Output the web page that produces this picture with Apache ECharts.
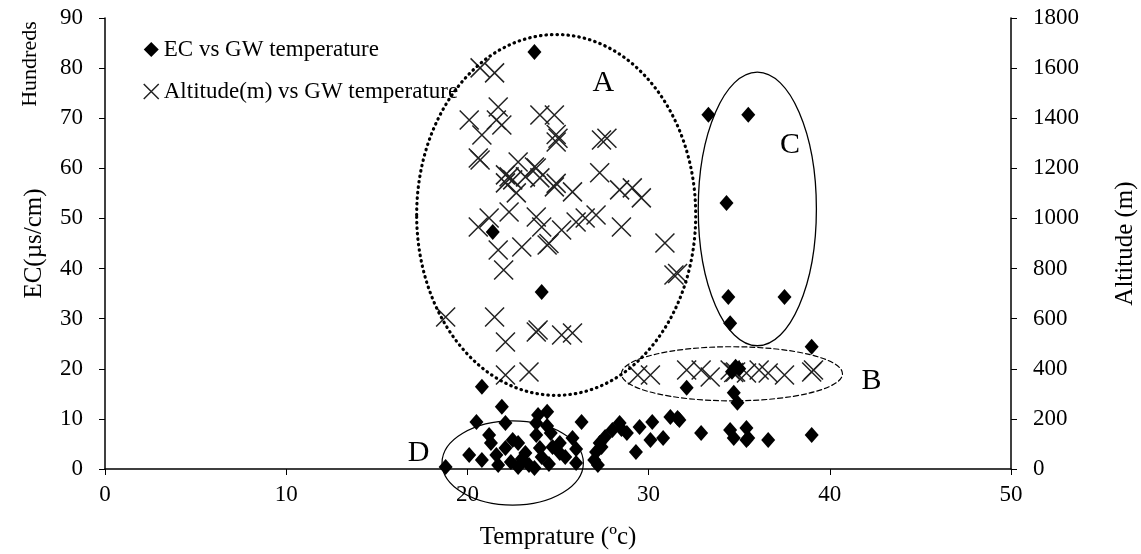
<!DOCTYPE html>
<html>
<head>
<meta charset="utf-8">
<script src="https://cdn.jsdelivr.net/npm/echarts@6/dist/echarts.min.js"></script>
<style>
  html, body { margin: 0; padding: 0; background: #fff; }
  #container { width: 1141px; height: 554px; }
</style>
</head>
<body>
<div id="container"></div>
<script>
var dom = document.getElementById("container");
var myChart = echarts.init(dom);

// EC (hundreds of µs/cm) vs GW temperature
var ecData = [
    [23.7, 83.2], [33.3, 70.7], [35.5, 70.7], [34.3, 53.1], [21.4, 47.3], [24.1, 35.3],
    [34.4, 34.3], [37.5, 34.3], [34.5, 29.1], [39.0, 24.4], [34.8, 20.4], [34.6, 19.4],
    [35.0, 20.0], [20.8, 16.4], [32.1, 16.2], [34.7, 15.2], [34.9, 13.2],
    [32.9, 7.2], [34.5, 7.8], [34.7, 6.2], [35.4, 8.2], [35.5, 6.2], [36.6, 5.8],
    [39.0, 6.8], [31.7, 9.8], [35.4, 5.8],
    [28.4, 9.2], [29.5, 8.4], [30.2, 9.4], [31.2, 10.4], [31.6, 10.2], [30.1, 5.8],
    [30.8, 6.2], [29.3, 3.4], [28.8, 7.2], [28.0, 7.8], [27.6, 6.4], [27.3, 5.2],
    [27.1, 3.4], [27.0, 1.8], [27.2, 0.8], [27.4, 4.4], [28.5, 8.0],
    [21.9, 12.4], [24.4, 11.4], [26.3, 9.4], [20.5, 9.4], [22.1, 9.2], [23.8, 9.2],
    [21.2, 6.8], [25.8, 6.2], [24.6, 7.2], [23.8, 6.8], [22.8, 5.2], [20.1, 2.8],
    [20.8, 1.8], [21.6, 2.8], [22.1, 4.2], [22.4, 1.4], [23.2, 3.2], [23.4, 0.8],
    [24.1, 2.4], [24.7, 4.4], [25.1, 3.2], [25.4, 2.4], [26.0, 1.2], [18.8, 0.4],
    [21.7, 0.8], [22.8, 0.4], [23.7, 0.2], [21.3, 5.2], [22.5, 5.8], [24.0, 4.2],
    [25.1, 5.2], [24.4, 8.6], [26.0, 4.0], [23.0, 2.0], [24.5, 1.0], [23.9, 10.8]
];

// Altitude (m) vs GW temperature
var altData = [
    [20.7, 1601], [21.5, 1581], [21.7, 1445], [20.1, 1393], [21.6, 1393], [21.9, 1373],
    [24.0, 1413], [24.8, 1413], [20.8, 1333], [24.9, 1335], [25.0, 1320], [24.9, 1305],
    [27.4, 1313], [27.7, 1320], [20.6, 1241], [20.7, 1233], [22.8, 1225], [23.7, 1205],
    [27.3, 1182], [22.1, 1174], [22.5, 1154], [23.8, 1201], [22.3, 1166], [22.1, 1142],
    [23.2, 1166], [24.0, 1162], [24.8, 1126], [24.9, 1140], [25.8, 1106], [28.4, 1114],
    [29.1, 1122], [29.6, 1082], [22.7, 1102], [22.3, 1026], [21.2, 1002], [20.6, 966],
    [23.8, 1006], [24.1, 966], [25.2, 954], [26.0, 986], [26.5, 1002], [27.1, 1014],
    [28.5, 966], [21.7, 874], [23.0, 886], [24.4, 894], [24.5, 900], [22.0, 794],
    [30.9, 902], [31.4, 774], [31.6, 780], [18.8, 607], [21.5, 607], [22.1, 507],
    [23.8, 547], [23.9, 555], [25.2, 535], [25.8, 543], [22.1, 375], [23.4, 387],
    [29.4, 375], [30.1, 375], [32.1, 395], [32.9, 395], [33.4, 367], [34.5, 395],
    [34.7, 385], [34.8, 387], [35.4, 383], [36.1, 395], [36.6, 383], [37.5, 375],
    [39.0, 387], [39.1, 395]
];

var xTicks = [0, 50, 10];       // min, max, interval
var ecTicks = [0, 90, 10];
var altTicks = [0, 1800, 200];

// group outlines in data units of x / EC axis: [cx, cy, rx, ry]
var groupA = [24.9, 50.7, 7.7, 36];
var groupB = [34.6, 19.0, 6.1, 5.4];
var groupC = [36.0, 51.9, 3.26, 27.3];
var groupD = [22.5, 1.2, 3.9, 8.4];
var groupLabels = [['A', 27.5, 77], ['C', 37.8, 64.7], ['B', 42.3, 17.6], ['D', 17.3, 3.2]];

var serif = 'Liberation Serif';
var xMark = 'path://M0,0L10,10M10,0L0,10';

option = {
    animation: false,
    textStyle: { fontFamily: serif, color: '#000' },
    grid: { left: 105, right: 130, top: 18, bottom: 85, outerBoundsMode: 'none' },
    legend: {
        orient: 'vertical',
        left: 138,
        top: 33,
        itemGap: 19,
        itemWidth: 15,
        itemHeight: 15,
        textStyle: { fontFamily: serif, fontSize: 23, color: '#000' },
        data: [
            { name: 'EC vs GW temperature', icon: 'diamond', itemStyle: { color: '#000' } },
            { name: 'Altitude(m) vs GW temperature', icon: xMark,
              itemStyle: { color: 'transparent', borderColor: '#222', borderWidth: 1.5 } }
        ]
    },
    xAxis: {
        type: 'value',
        min: xTicks[0],
        max: xTicks[1],
        interval: xTicks[2],
        name: 'Temprature (ºc)',
        nameLocation: 'middle',
        nameGap: 56,
        nameTextStyle: { fontFamily: serif, fontSize: 25, color: '#000' },
        axisLine: { lineStyle: { color: '#000', width: 1.5 } },
        axisTick: { length: 6, lineStyle: { color: '#000' } },
        axisLabel: { fontFamily: serif, fontSize: 23, color: '#000', margin: 14 },
        splitLine: { show: false }
    },
    yAxis: [{
        type: 'value',
        min: ecTicks[0],
        max: ecTicks[1],
        interval: ecTicks[2],
        name: 'EC(µs/cm)',
        nameLocation: 'middle',
        nameGap: 58,
        nameTextStyle: { fontFamily: serif, fontSize: 25, color: '#000' },
        axisLine: { show: true, lineStyle: { color: '#000', width: 1.5 } },
        axisTick: { show: true, length: 6, lineStyle: { color: '#000' } },
        axisLabel: { fontFamily: serif, fontSize: 23, color: '#000', margin: 22 },
        splitLine: { show: false }
    }, {
        type: 'value',
        min: altTicks[0],
        max: altTicks[1],
        interval: altTicks[2],
        position: 'right',
        name: 'Altitude (m)',
        nameLocation: 'middle',
        nameGap: 102,
        nameTextStyle: { fontFamily: serif, fontSize: 25, color: '#000' },
        axisLine: { show: true, lineStyle: { color: '#000', width: 1.5 } },
        axisTick: { show: true, length: 6, lineStyle: { color: '#000' } },
        axisLabel: {
            fontFamily: serif, fontSize: 23, color: '#000', margin: 22,
            formatter: function (v) { return String(v); }
        },
        splitLine: { show: false }
    }],
    series: [{
        name: 'EC vs GW temperature',
        type: 'scatter',
        yAxisIndex: 0,
        symbol: 'diamond',
        symbolSize: [14, 16],
        itemStyle: { color: '#000', opacity: 1 },
        data: ecData,
        z: 3
    }, {
        name: 'Altitude(m) vs GW temperature',
        type: 'scatter',
        yAxisIndex: 1,
        symbol: xMark,
        symbolSize: 19,
        itemStyle: { color: 'transparent', borderColor: '#222', borderWidth: 1.5, opacity: 1 },
        data: altData,
        z: 2
    }]
};

if (option && typeof option === "object") {
    myChart.setOption(option, true);
}

// outline ellipses and letters, placed in data units
function ellipseOf(g, dash, width) {
    var c = myChart.convertToPixel({ xAxisIndex: 0, yAxisIndex: 0 }, [g[0], g[1]]);
    var e = myChart.convertToPixel({ xAxisIndex: 0, yAxisIndex: 0 }, [g[0] + g[2], g[1] + g[3]]);
    return {
        type: 'ellipse',
        shape: { cx: c[0], cy: c[1], rx: Math.abs(e[0] - c[0]), ry: Math.abs(c[1] - e[1]) },
        style: { fill: 'none', stroke: '#000', lineWidth: width, lineDash: dash, lineCap: 'round' },
        silent: true,
        z: 10
    };
}

var graphics = [
    ellipseOf(groupA, [0.5, 5], 3.2),
    ellipseOf(groupB, [5, 3], 1.2),
    ellipseOf(groupC, null, 1.3),
    ellipseOf(groupD, null, 1.2),
    {
        type: 'text', x: 30, y: 64, rotation: Math.PI / 2,
        style: { text: 'Hundreds', font: '22px "Liberation Serif"', fill: '#000',
                 align: 'center', verticalAlign: 'middle' }
    }
];
groupLabels.forEach(function (l) {
    var p = myChart.convertToPixel({ xAxisIndex: 0, yAxisIndex: 0 }, [l[1], l[2]]);
    graphics.push({
        type: 'text', x: p[0], y: p[1],
        style: { text: l[0], font: '30px "Liberation Serif"', fill: '#000',
                 align: 'center', verticalAlign: 'middle' },
        z: 11
    });
});
myChart.setOption({ graphic: graphics });
</script>
</body>
</html>
